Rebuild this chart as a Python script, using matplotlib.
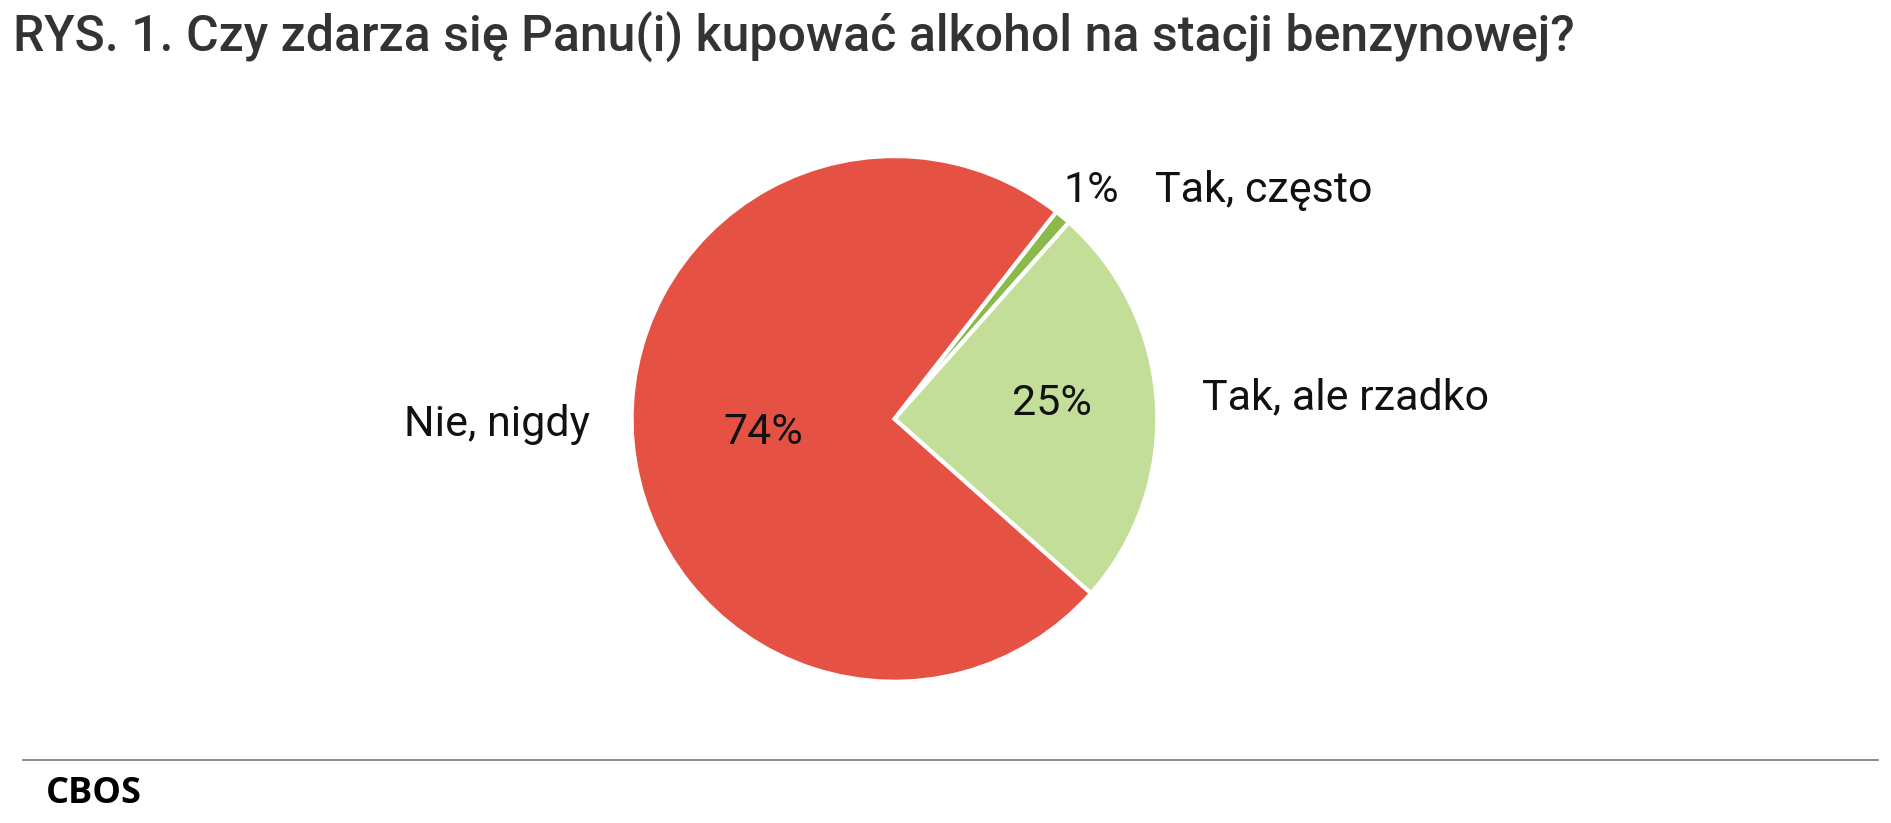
import matplotlib.pyplot as plt

title = "RYS. 1. Czy zdarza się Panu(i) kupować alkohol na stacji benzynowej?"
labels = ["Tak, często", "Tak, ale rzadko", "Nie, nigdy"]
values = [1, 25, 74]
colors = ["#8BB94A", "#C3DE98", "#E55243"]

plt.rcParams['font.family'] = ['Roboto', 'DejaVu Sans']

fig = plt.figure(figsize=(18.91, 8.23), dpi=100)
ax = fig.add_axes([0.473 - 0.139, 0.491 - 0.3195, 0.278, 0.639])
wedges, _ = ax.pie(values, colors=colors, startangle=52, counterclock=False,
                   wedgeprops=dict(edgecolor='white', linewidth=3))
ax.set_xlim(-1, 1)
ax.set_ylim(-1, 1)

# percentage labels and category labels
pct_pos = [(0.75, 0.87), (0.60, 0.06), (-0.50, -0.05)]
lab_pos = [(0.99, 0.87, 'left'), (1.17, 0.08, 'left'), (-1.16, -0.02, 'right')]
for v, (px, py), (lx, ly, ha), lab in zip(values, pct_pos, lab_pos, labels):
    ax.text(px, py, f"{v}%", fontsize=31, ha='center', va='center', color='#111')
    ax.text(lx, ly, lab, fontsize=31, ha=ha, va='center', color='#111')

fig.text(0.007, 0.955, title, fontsize=36, fontweight='medium', color='#333333',
         ha='left', va='center')
fig.add_artist(plt.Line2D([0.012, 0.993], [0.0767, 0.0767], transform=fig.transFigure,
                          color='#777777', linewidth=1.2))
fig.text(0.024, 0.035, "CBOS", fontsize=26, fontweight='bold', family=['Open Sans', 'DejaVu Sans'],
         color='black', ha='left', va='center')

fig.savefig("out.png", dpi=100)
